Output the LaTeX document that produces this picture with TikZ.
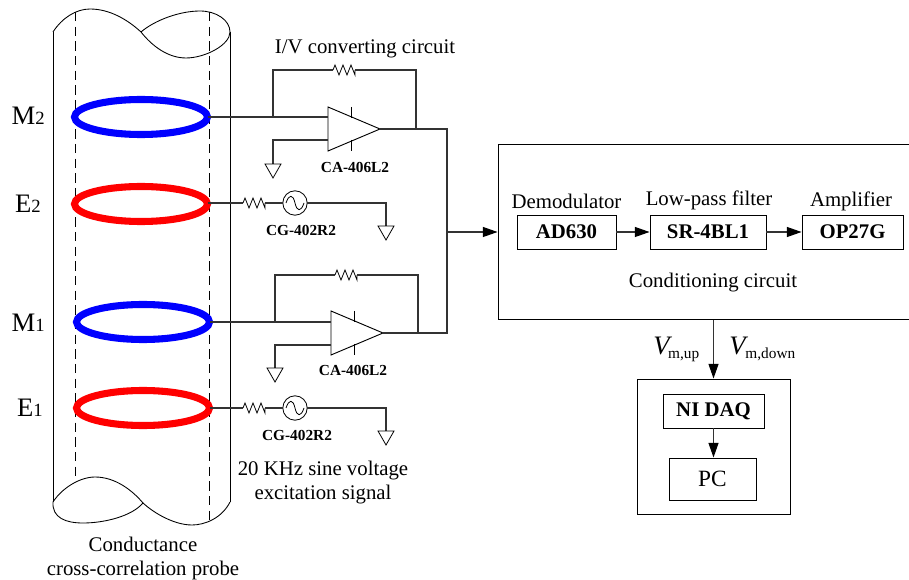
\documentclass[tikz,border=0pt]{standalone}
\usepackage{fontspec}
\setmainfont{Liberation Serif}
\usetikzlibrary{arrows.meta,shapes.geometric}
\definecolor{wirecol}{gray}{0.2}
\tikzset{
  x=0.75pt,y=-0.75pt,
  wire/.style={draw=wirecol,line width=0.8pt},
  thin wire/.style={draw=black,line width=0.65pt},
  flow/.style={wire,-{Triangle[length=11pt,width=7.5pt,color=black]}},
  coil/.style={draw,ellipse,line width=5.3pt,minimum width=0.75pt*133,minimum height=0.75pt*35,inner sep=0pt,outer sep=0pt},
  guide/.style={draw=black,line width=0.7pt,dash pattern=on 7pt off 4pt},
  box/.style={draw=black,line width=0.7pt,inner sep=0pt},
  lbl/.style={inner sep=0pt,font=\fontsize{15.6}{18}\selectfont,align=center},
  part/.style={inner sep=0pt,font=\fontsize{11.5}{13}\selectfont\bfseries},
  bigl/.style={inner sep=0pt,font=\fontsize{20}{22}\selectfont},
  boxl/.style={font=\fontsize{15.6}{18}\selectfont\bfseries},
  gnd/.pic={\draw[line width=0.6pt] (-8,0) -- (8,0) -- (0,14) -- cycle;},
  res/.pic={\draw[line width=0.6pt] (-11,0) -- (-9,-5) -- (-5,5) -- (-1,-5) -- (3,5) -- (7,-5) -- (11,5) -- (11,0);},
  src/.pic={\draw[line width=0.6pt] (0,0) circle (12.2);
    \draw[line width=0.6pt] (-9,0) .. controls (-6,-9) and (-2,-9) .. (0,0) .. controls (2,9) and (6,9) .. (9,0);},
  opamp/.pic={\draw[line width=0.7pt] (0,-22) -- (52,0) -- (0,22) -- cycle;
    \draw[line width=0.6pt] (23,-22) -- (23,-11) (23,11) -- (23,22);},
}
\begin{document}
\begin{tikzpicture}
\useasboundingbox (0,0) rectangle (909,580);
% pipe
\draw[thin wire] (53,32) -- (53,502) (230,32) -- (230,502);
\draw[thin wire] (53,32) .. controls (62,18) and (76,9) .. (90,9) .. controls (110,9) and (128,20) .. (141,32)
  .. controls (155,20) and (180,11) .. (200,11) .. controls (216,11) and (230,20) .. (230,32)
  .. controls (230,45) and (205,58) .. (186,58) .. controls (168,58) and (152,46) .. (141,32);
\draw[thin wire] (53,502) .. controls (62,488) and (80,477) .. (95,477) .. controls (115,477) and (132,490) .. (143,503)
  .. controls (132,516) and (105,523) .. (83,523) .. controls (66,523) and (52,518) .. (53,502);
\draw[thin wire] (143,503) .. controls (155,514) and (175,525) .. (192,525) .. controls (205,525) and (222,518) .. (230,502);
\draw[guide] (75,12) -- (75,478);
\draw[guide] (209,12) -- (209,522);
% coils
\node[coil,draw=blue] (m2) at (141,117) {};
\node[coil,draw=red] (e2) at (141,204) {};
\node[coil,draw=blue] (m1) at (143,322) {};
\node[coil,draw=red] (e1) at (143,408) {};
\node[bigl,anchor=east] (lm2) at (45,116) {M\fontsize{14}{15}\selectfont 2};
\node[bigl,anchor=east] (le2) at (41,204) {E\fontsize{14}{15}\selectfont 2};
\node[bigl,anchor=east] (lm1) at (45,323) {M\fontsize{14}{15}\selectfont 1};
\node[bigl,anchor=east] (le1) at (43,408) {E\fontsize{14}{15}\selectfont 1};
% upper amp
\coordinate (a2) at (328,129);
\coordinate (a2in) at (328,117);
\coordinate (a2ref) at (328,140);
\coordinate (a2out) at (380,129);
\coordinate (a2fb) at (273,117);
\coordinate (rail) at (447,232);
\path (a2) pic {opamp};
\draw[wire] (m2.east) -- (a2in);
\draw[wire] (a2fb) -- (273,70) -- (333,70);
\path (344,70) pic {res};
\draw[wire] (355,70) -- (416,70) -- (416,129);
\draw[wire] (a2ref) -- (273,140) -- (273,164);
\path (273,164) pic {gnd};
\draw[wire] (a2out) -- (447,129) -- (rail);
\node[part] (ca2) at (355,167) {CA-406L2};
% E2 branch
\node[circle,minimum size=0.75pt*24.4,inner sep=0pt] (s2) at (295,203) {};
\draw[wire] (e2.east |- s2.center) -- (243,203);
\path (254,203) pic {res};
\path (s2.center) pic {src};
\draw[wire] (265,203) -- (s2.west);
\draw[wire] (s2.east) -- (386,203) -- (386,226);
\path (386,226) pic {gnd};
\node[part] (cg2) at (301,230) {CG-402R2};
% lower amp
\coordinate (a1) at (331,333);
\coordinate (a1in) at (331,322);
\coordinate (a1ref) at (331,345);
\coordinate (a1out) at (383,333);
\path (a1) pic {opamp};
\draw[wire] (m1.east) -- (a1in);
\draw[wire] (275,322) -- (275,275) -- (335,275);
\path (346,275) pic {res};
\draw[wire] (357,275) -- (418,275) -- (418,333);
\draw[wire] (a1ref) -- (275,345) -- (275,368);
\path (275,368) pic {gnd};
\draw[wire] (a1out) -- (447,333) -- (rail);
\node[part] (ca1) at (353,370) {CA-406L2};
% E1 branch
\draw[wire] (e1.east) -- (243,408);
\path (254,408) pic {res};
\node[circle,minimum size=0.75pt*24.4,inner sep=0pt] (s1) at (295,408) {};
\path (s1.center) pic {src};
\draw[wire] (265,408) -- (s1.west);
\draw[wire] (s1.east) -- (386,408) -- (386,431);
\path (386,431) pic {gnd};
\node[part] (cg1) at (297,435) {CG-402R2};
% conditioning
\node[box,minimum width=0.75pt*412,minimum height=0.75pt*175] (cond) at (704,232) {};
\draw[flow] (rail) -- (cond.west);
\node[box,boxl,minimum width=0.75pt*99,minimum height=0.75pt*34] (ad) at (566.5,232) {AD630};
\node[box,boxl,minimum width=0.75pt*116,minimum height=0.75pt*34] (sr) at (708,232) {SR-4BL1};
\node[box,boxl,minimum width=0.75pt*101,minimum height=0.75pt*34] (op) at (852.5,232) {OP27G};
\draw[flow] (ad) -- (sr);
\draw[flow] (sr) -- (op);
\node[lbl] (t1) at (566.5,201) {Demodulator};
\node[lbl] (t2) at (709,200) {Low-pass filter};
\node[lbl] (t3) at (851,201) {Amplifier};
\node[lbl] (t4) at (713,283) {Conditioning circuit};
% DAQ
\node[box,minimum width=0.75pt*153,minimum height=0.75pt*135] (daq) at (713.5,446.5) {};
\draw[flow] (cond.south -| daq.north) -- (daq.north);
\node[box,boxl,minimum width=0.75pt*101,minimum height=0.75pt*34] (ni) at (713.5,411) {NI DAQ};
\node[box,minimum width=0.75pt*87,minimum height=0.75pt*42,font=\fontsize{17.5}{20}\selectfont] (pc) at (712.5,479) {PC};
\draw[flow] (ni) -- (ni |- pc.north);
\node[inner sep=0pt,anchor=base west] (vu) at (653,354) {\fontsize{20}{22}\selectfont\textit{V}\kern-3pt\raisebox{-3pt}{\fontsize{11.5}{13}\selectfont m,up}};
\node[inner sep=0pt,anchor=base west] (vd) at (729,354) {\fontsize{20}{22}\selectfont\textit{V}\kern-2pt\raisebox{-3pt}{\fontsize{11.5}{13}\selectfont m,down}};
% texts
\node[lbl] (t5) at (365,49) {I/V converting circuit};
\node[lbl] (t6) at (323,483) {20 KHz sine voltage\\excitation signal};
\node[lbl] (t7) at (143,558.5) {Conductance\\cross-correlation probe};
\end{tikzpicture}
\end{document}
